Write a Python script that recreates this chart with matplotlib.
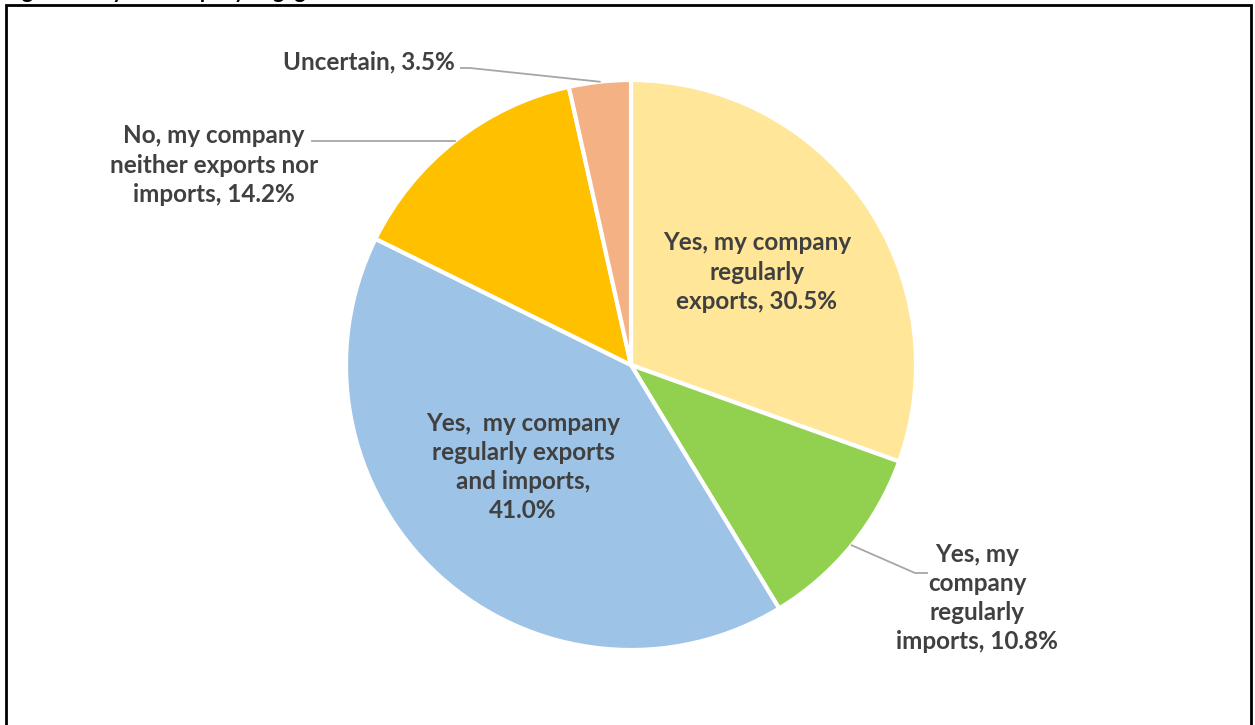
import numpy as np
import matplotlib.pyplot as plt
from matplotlib.patches import Rectangle

labels = [
    "Yes, my company\nregularly\nexports, 30.5%",
    "Yes, my\ncompany\nregularly\nimports, 10.8%",
    "Yes,  my company\nregularly exports\nand imports,\n41.0%",
    "No, my company\nneither exports nor\nimports, 14.2%",
    "Uncertain, 3.5%",
]
shares = [30.5, 10.8, 41.0, 14.2, 3.5]
colors = ["#FFE699", "#92D050", "#9DC3E6", "#FFC000", "#F4B183"]

W, H = 1255, 725
cx, cy, R = 631, H - 365, 285
txt = "#404040"
font = "Lato"

fig = plt.figure(figsize=(W / 100, H / 100), dpi=100)
ax = fig.add_axes([0, 0, 1, 1])

# outer frame (bottom edge runs off the page)
ax.add_patch(Rectangle((6, -10), 1245, H - 5 + 10, fill=False, ec="black", lw=2))
ax.text(5, H + 2, "Figure 3: Is your company engaged in", fontsize=15, fontweight="bold",
        family=font, color="black", va="baseline", ha="left")

wedges, _ = ax.pie(shares, colors=colors, startangle=90, counterclock=False,
                   center=(cx, cy), radius=R, frame=True,
                   wedgeprops=dict(edgecolor="white", linewidth=3))
ax.set_xlim(0, W)
ax.set_ylim(0, H)
ax.set_aspect("equal")
ax.axis("off")

# mid angle of each slice, in degrees
cum = np.cumsum([0] + shares)
mids = [90 - 3.6 * (cum[i] + cum[i + 1]) / 2 for i in range(len(shares))]

def edge_pt(i):
    a = np.radians(mids[i])
    return cx + R * np.cos(a), cy + R * np.sin(a)

fs = 17.5
ls = 1.32
kw = dict(ha="center", va="center", fontsize=fs, fontweight="bold",
          color=txt, family=font, linespacing=ls)

# inside labels
ax.text(757, H - 272, labels[0], **kw)
ax.text(523, H - 467, labels[2], **kw)

# outside labels with leader lines
x0, y0 = edge_pt(1)
ax.plot([x0, 915, 927], [y0, H - 573, H - 573], color="#A6A6A6", lw=1.3)
ax.text(977, H - 598, labels[1], **kw)

x0, y0 = edge_pt(3)
ax.plot([x0, 312], [y0, y0], color="#A6A6A6", lw=1.3)
ax.text(214, H - 165, labels[3], **kw)

x0, y0 = edge_pt(4)
ax.plot([x0, 470, 461], [y0, H - 68, H - 68], color="#A6A6A6", lw=1.3)
ax.text(369, H - 62, labels[4], **kw)

fig.savefig("out.png", dpi=100)
